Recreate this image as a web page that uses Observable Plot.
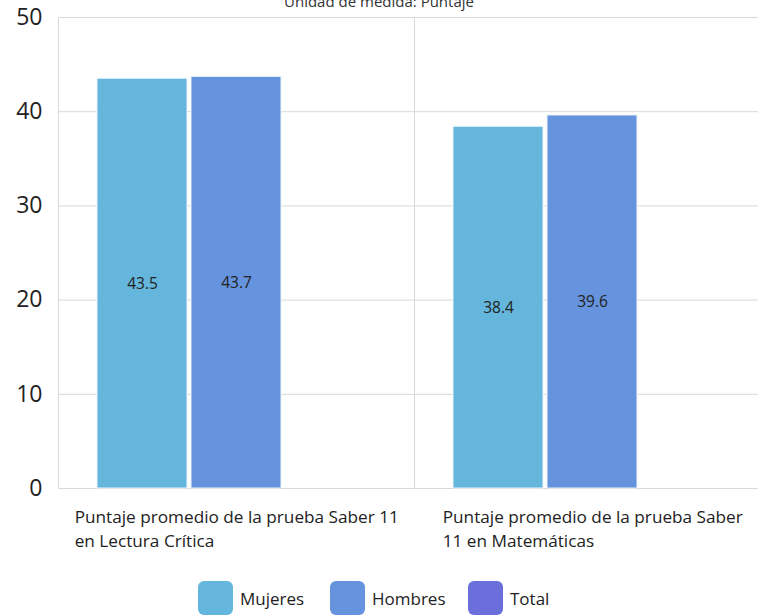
<!DOCTYPE html>
<html>
<head>
<meta charset="utf-8">
<script src="https://cdn.jsdelivr.net/npm/d3@7"></script>
<script src="https://cdn.jsdelivr.net/npm/@observablehq/plot@0.6"></script>
<style>
  html, body { margin: 0; padding: 0; background: #fff; overflow: hidden; width: 758px; height: 615px; }
  body { font-family: "Open Sans", "Noto Sans", sans-serif; position: relative; }
  #subtitle { position: absolute; top: -9px; left: 0; width: 758px; text-align: center; font-size: 15px; color: #333; }
  #chart { position: absolute; top: 0; left: 0; width: 770px; }
  #chart svg { max-width: none !important; }
  #legend { position: absolute; top: 581px; left: 0; width: 758px; height: 34px; }
  .item { position: absolute; top: 0; height: 34px; display: flex; align-items: center; font-size: 17px; color: #222; }
  .sw { width: 35px; height: 34px; border-radius: 6px; margin-right: 7px; }
</style>
</head>
<body>
<div id="subtitle">Unidad de medida: Puntaje</div>
<div id="chart"></div>
<div id="legend"></div>
<script>
const categories = [
  "Puntaje promedio de la prueba Saber 11 en Lectura Crítica",
  "Puntaje promedio de la prueba Saber 11 en Matemáticas"
];
const categoryLabels = [
  "Puntaje promedio de la prueba Saber 11\nen Lectura Crítica",
  "Puntaje promedio de la prueba Saber\n11 en Matemáticas"
];
const series = ["Mujeres", "Hombres", "Total"];
const colors = ["#64b6dc", "#6693dd", "#6b6fdc"];
const mujeres = [43.5, 38.4];
const hombres = [43.7, 39.6];
const yTicks = [0, 10, 20, 30, 40, 50];

function draw() {
  const rows = [];
  categories.forEach((c, i) => {
    rows.push({cat: c, serie: "Mujeres", value: mujeres[i]});
    rows.push({cat: c, serie: "Hombres", value: hombres[i]});
  });

  const W = 770, ML = 57, MR = 0;
  const bandW = (W - ML - MR) / categories.length;
  const labelFont = 17.2;
  const ctx = document.createElement("canvas").getContext("2d");
  ctx.font = `${labelFont}px 'Open Sans'`;
  const labelMarks = categories.map((c, i) => {
    const w = d3.max(categoryLabels[i].split("\n"), s => ctx.measureText(s).width);
    return Plot.text([{cat: c, label: categoryLabels[i]}], {
      fx: "cat", text: "label", frameAnchor: "bottom-left",
      dx: (bandW - w) / 2, dy: 18, textAnchor: "start", lineAnchor: "top",
      lineHeight: 1.36, fontSize: labelFont, fill: "#222"
    });
  });

  const chart = Plot.plot({
    width: W,
    height: 560,
    marginLeft: ML,
    marginRight: MR,
    marginTop: 17,
    marginBottom: 72,
    style: {fontFamily: "'Open Sans', 'Noto Sans', sans-serif", background: "transparent", maxWidth: "none"},
    fx: {domain: categories, padding: 0, axis: null},
    x: {domain: series, paddingInner: 0.042, paddingOuter: 0.4, axis: null},
    y: {domain: [0, 50], ticks: yTicks},
    color: {domain: series, range: colors},
    marks: [
      Plot.gridY(yTicks, {stroke: "#d9d9d9", strokeOpacity: 1, strokeWidth: 1}),
      Plot.frame({anchor: "left", stroke: "#d9d9d9", strokeWidth: 1}),
      Plot.axisY(yTicks, {tickSize: 0, tickPadding: 16, fontSize: 23, fill: "#222", label: null}),
      Plot.barY(rows, {fx: "cat", x: "serie", y: "value", fill: "serie", stroke: "#eaf4fb", strokeWidth: 1}),
      Plot.text(rows, {fx: "cat", x: "serie", y: d => d.value / 2, text: d => d.value.toFixed(1), fontSize: 15.5, fill: "#222"}),
      ...labelMarks
    ]
  });
  document.getElementById("chart").appendChild(chart);

  const legend = document.getElementById("legend");
  const lefts = [198, 330, 468];
  series.forEach((s, i) => {
    const it = document.createElement("div");
    it.className = "item";
    it.style.left = lefts[i] + "px";
    it.innerHTML = `<div class="sw" style="background:${colors[i]}"></div><span>${s}</span>`;
    legend.appendChild(it);
  });
}
if (document.fonts && document.fonts.load) {
  document.fonts.load("17px 'Open Sans'").then(draw, draw);
} else {
  draw();
}
</script>
</body>
</html>
